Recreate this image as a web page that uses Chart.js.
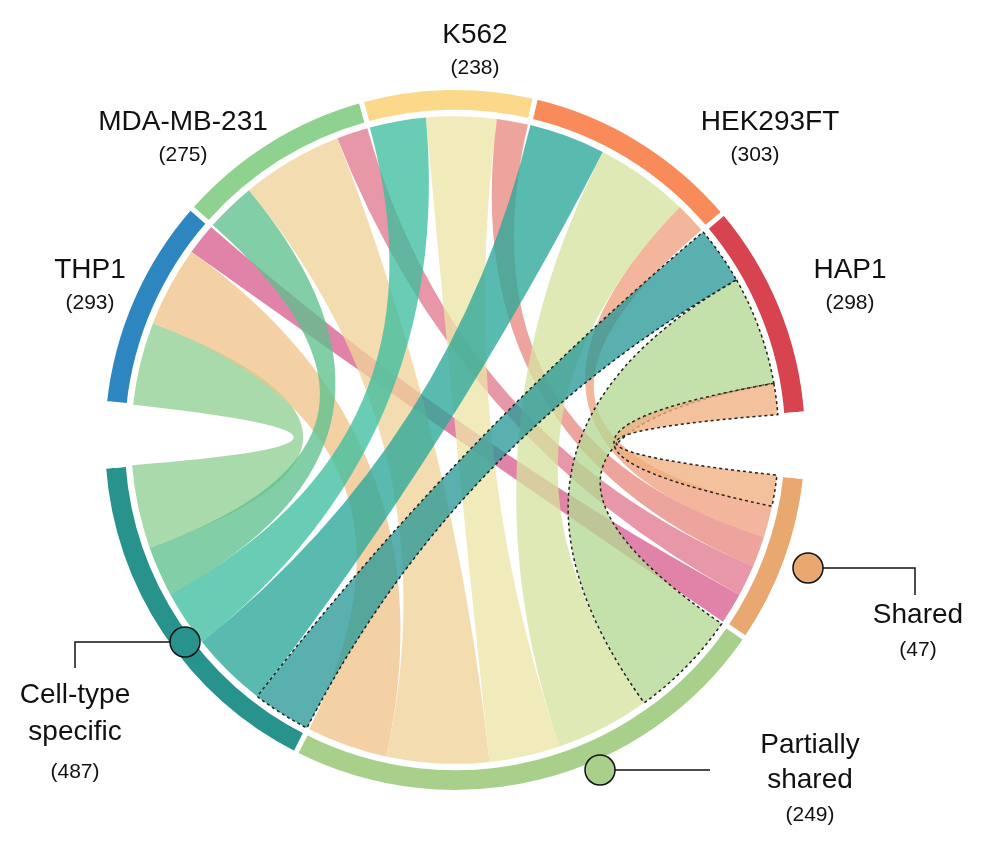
<!DOCTYPE html>
<html>
<head>
<meta charset="utf-8">
<script src="https://cdn.jsdelivr.net/npm/chart.js@4"></script>
<style>
  html, body { margin: 0; padding: 0; background: #fff; }
  #wrap { width: 983px; height: 865px; }
</style>
</head>
<body>
<div id="wrap"><canvas id="chord"></canvas></div>
<script>
// cell lines (top half, clockwise) and their gene counts
const cellLines = ['THP1', 'MDA-MB-231', 'K562', 'HEK293FT', 'HAP1'];
const cellCounts = [293, 275, 238, 303, 298];
// categories (bottom half, clockwise from the right)
const categories = ['Shared', 'Partially shared', 'Cell-type specific'];
const categoryCounts = [47, 249, 487];

// ribbon sizes per cell line
const toSpecific = [125, 75, 85, 115, 87];
const toPartial = [121, 153, 106, 141, 164];
const toShared = [47, 47, 47, 47, 47];

const lineColors = ['#2e86c1', '#8fd18f', '#fcd98a', '#f98a5a', '#d7434f'];
const catColors = ['#e8a870', '#a8d08a', '#27938c'];
const specificColors = ['#8fcf94', '#5fc08e', '#3dbf9f', '#2aa89a', '#2a9a98'];
const partialColors = ['#f0c48a', '#f0d49a', '#ede4a8', '#d6e3a0', '#b5d994'];
const sharedColors = ['#d8608f', '#e07a8e', '#e88a80', '#f0a080', '#f0b080'];

const sum = a => a.reduce((s, v) => s + v, 0);
const lineTotals = cellLines.map((_, i) => toSpecific[i] + toPartial[i] + toShared[i]);
const catTotals = [sum(toShared), sum(toPartial), sum(toSpecific)];
const gap = 85;

// doughnut order: Shared, Partial, Specific, gap, THP1..HAP1, gap
const ringValues = [...catTotals, gap, ...lineTotals, gap];
const ringColors = [...catColors, 'rgba(0,0,0,0)', ...lineColors, 'rgba(0,0,0,0)'];

const chordPlugin = {
  id: 'chord',
  afterDatasetsDraw(chart) {
    const ctx = chart.ctx;
    const arcs = chart.getDatasetMeta(0).data;
    const cx = arcs[0].x, cy = arcs[0].y;
    const r = arcs[0].innerRadius - 4;
    const pad = 0.004;

    // split an arc into pieces proportional to values
    function split(arc, vals) {
      const tot = sum(vals);
      const span = arc.endAngle - arc.startAngle - 2 * pad;
      let a = arc.startAngle + pad;
      return vals.map(v => { const s = a; a += span * v / tot; return [s, a]; });
    }

    const topSeg = cellLines.map((_, i) => split(arcs[4 + i], [toSpecific[i], toPartial[i], toShared[i]]));
    // bottom pieces ordered HAP1 .. THP1 clockwise
    const rev = a => a.slice().reverse();
    const sharedSeg = rev(split(arcs[0], rev(toShared)));
    const partialSeg = rev(split(arcs[1], rev(toPartial)));
    const specificSeg = rev(split(arcs[2], rev(toSpecific)));

    function ribbon(s, t, color, dotted) {
      ctx.save();
      ctx.beginPath();
      ctx.arc(cx, cy, r, s[0], s[1]);
      ctx.quadraticCurveTo(cx, cy, cx + r * Math.cos(t[0]), cy + r * Math.sin(t[0]));
      ctx.arc(cx, cy, r, t[0], t[1]);
      ctx.quadraticCurveTo(cx, cy, cx + r * Math.cos(s[0]), cy + r * Math.sin(s[0]));
      ctx.closePath();
      ctx.globalAlpha = 0.78;
      ctx.fillStyle = color;
      ctx.fill();
      if (dotted) {
        ctx.globalAlpha = 1;
        ctx.setLineDash([3, 3]);
        ctx.lineWidth = 1.5;
        ctx.strokeStyle = '#222';
        ctx.stroke();
      }
      ctx.restore();
    }

    cellLines.forEach((_, i) => {
      const dotted = i === 4;
      ribbon(topSeg[i][0], specificSeg[i], specificColors[i], dotted);
      ribbon(topSeg[i][1], partialSeg[i], partialColors[i], dotted);
      ribbon(topSeg[i][2], sharedSeg[i], sharedColors[i], dotted);
    });

    // labels
    ctx.save();
    ctx.fillStyle = '#111';
    ctx.textAlign = 'center';
    ctx.textBaseline = 'middle';
    const big = '28px "Liberation Sans", Arial, sans-serif';
    const small = '21px "Liberation Sans", Arial, sans-serif';
    const labelPos = [[90, 270], [183, 122], [475, 35], [770, 122], [850, 270]];
    cellLines.forEach((name, i) => {
      const [x, y] = labelPos[i];
      ctx.font = big; ctx.fillText(name, x, y);
      ctx.font = small; ctx.fillText('(' + cellCounts[i] + ')', i === 3 ? x - 15 : x, y + 33);
    });
    ctx.font = big;
    ctx.fillText('Shared', 918, 615);
    ctx.fillText('Partially', 810, 745);
    ctx.fillText('shared', 810, 780);
    ctx.fillText('Cell-type', 75, 695);
    ctx.fillText('specific', 75, 732);
    ctx.font = small;
    ctx.fillText('(' + categoryCounts[0] + ')', 918, 650);
    ctx.fillText('(' + categoryCounts[1] + ')', 810, 815);
    ctx.fillText('(' + categoryCounts[2] + ')', 75, 772);

    // markers with leader lines
    ctx.strokeStyle = '#111';
    ctx.lineWidth = 1.5;
    ctx.beginPath();
    ctx.moveTo(808, 568); ctx.lineTo(915, 568); ctx.lineTo(915, 595);
    ctx.moveTo(185, 642); ctx.lineTo(75, 642); ctx.lineTo(75, 668);
    ctx.moveTo(600, 770); ctx.lineTo(710, 770);
    ctx.stroke();
    [[808, 568, catColors[0]], [185, 642, catColors[2]], [600, 770, catColors[1]]].forEach(([x, y, c]) => {
      ctx.beginPath();
      ctx.arc(x, y, 15, 0, Math.PI * 2);
      ctx.fillStyle = c;
      ctx.fill();
      ctx.stroke();
    });
    ctx.restore();
  }
};

new Chart(document.getElementById('chord'), {
  type: 'doughnut',
  data: {
    labels: [...categories, '', ...cellLines, ''],
    datasets: [{
      data: ringValues,
      backgroundColor: ringColors,
      borderColor: '#fff',
      borderWidth: 5
    }]
  },
  options: {
    responsive: true,
    maintainAspectRatio: false,
    animation: false,
    rotation: 96,
    cutout: '93%',
    layout: { padding: { top: 85, bottom: 70, left: 100, right: 173 } },
    plugins: { legend: { display: false }, tooltip: { enabled: false } }
  },
  plugins: [chordPlugin]
});
</script>
</body>
</html>
